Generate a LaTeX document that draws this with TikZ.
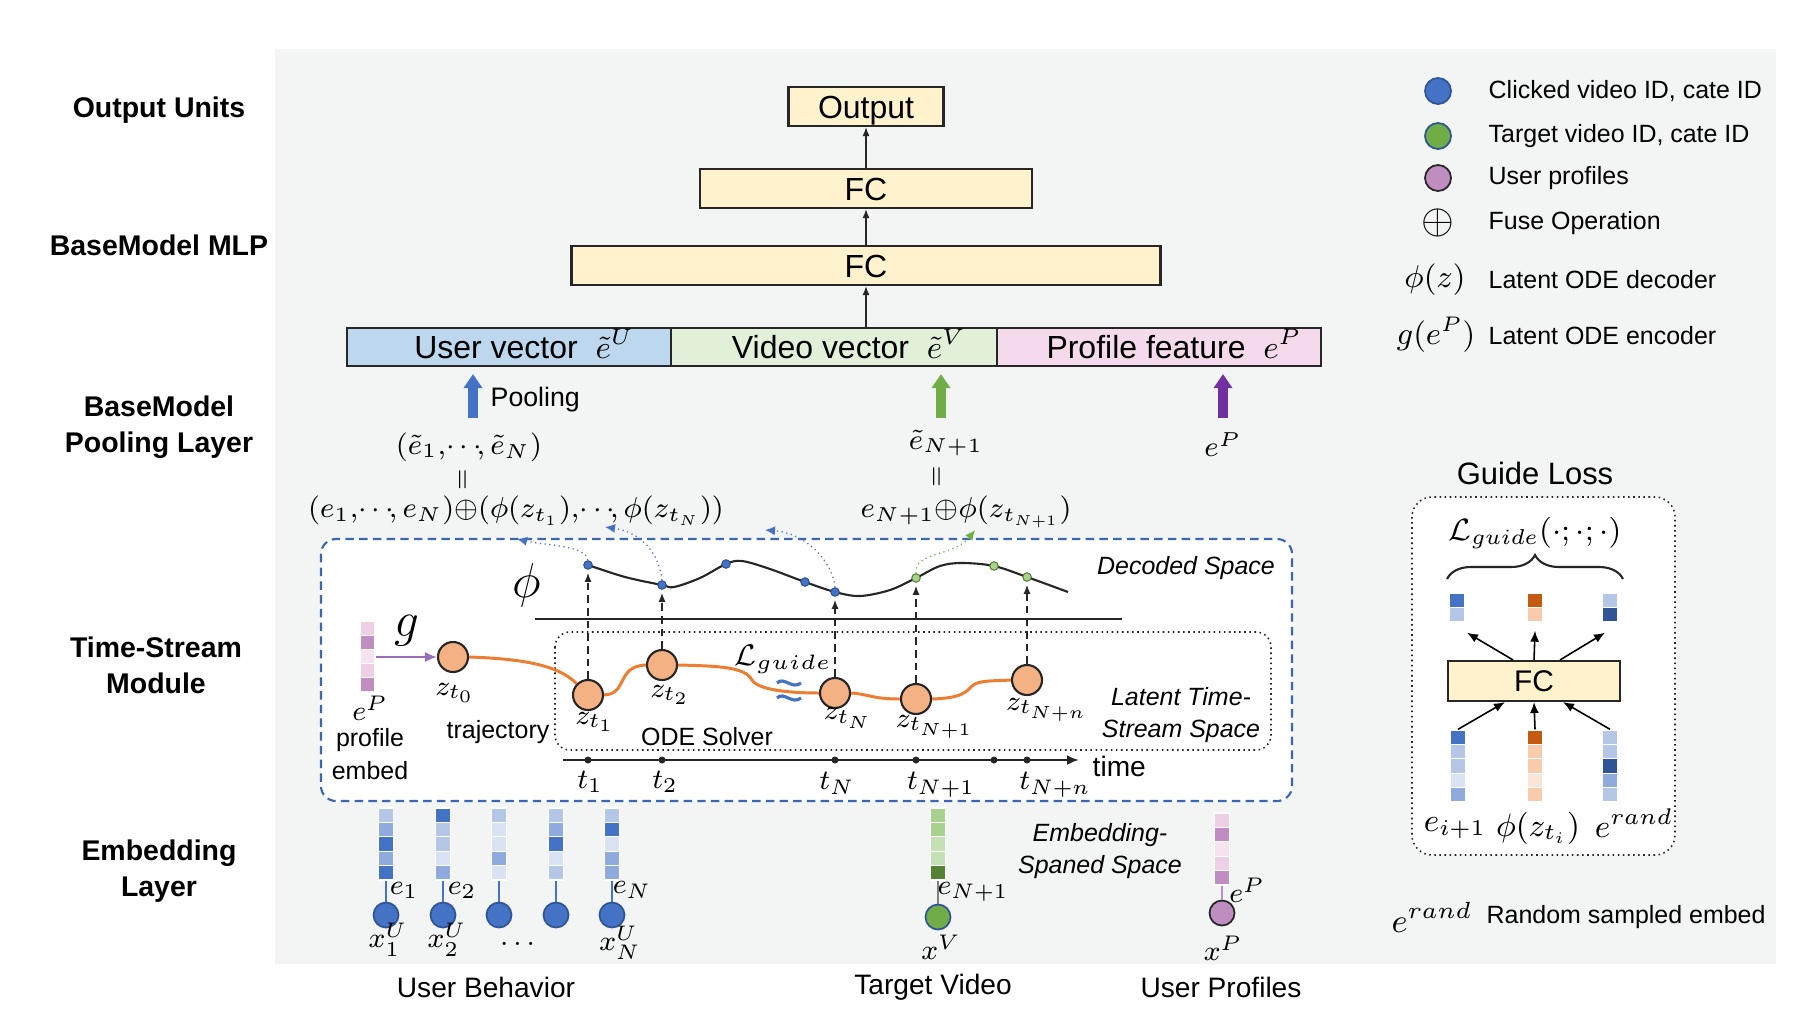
\RequirePackage{fix-cm}
\documentclass[tikz,border=0pt]{standalone}
\usepackage{amsmath}
\usepackage[no-math]{fontspec}
\setmainfont{Liberation Sans}
\usetikzlibrary{positioning,arrows.meta,decorations.pathreplacing}
\definecolor{bggray}{HTML}{F3F4F4}
\definecolor{lineg}{HTML}{262626}
\definecolor{fcfill}{HTML}{FFF2CC}
\definecolor{ufill}{HTML}{BDD7EE}
\definecolor{vfill}{HTML}{E2F0D9}
\definecolor{pfill}{HTML}{F5DAEB}
\definecolor{eD}{HTML}{4472C4}
\definecolor{eM}{HTML}{8FAADC}
\definecolor{eL}{HTML}{B4C7E7}
\definecolor{eX}{HTML}{DAE3F3}
\definecolor{eN}{HTML}{2F5597}
\definecolor{gD}{HTML}{548235}
\definecolor{gL}{HTML}{A9D18E}
\definecolor{gX}{HTML}{C5E0B4}
\definecolor{gA}{HTML}{70AD47}
\definecolor{pD}{HTML}{BF8DC0}
\definecolor{pL}{HTML}{EFCFE4}
\definecolor{pX}{HTML}{F6E3EF}
\definecolor{pA}{HTML}{7030A0}
\definecolor{oD}{HTML}{C55A11}
\definecolor{oL}{HTML}{F8CBAD}
\definecolor{oX}{HTML}{FBE5D6}
\definecolor{zfill}{HTML}{F4B183}
\definecolor{orangeL}{HTML}{ED7D31}
\definecolor{dashblue}{HTML}{3B66B0}
\newcommand{\tdots}{\!{\cdots}\!}

\begin{document}
\begin{tikzpicture}[x=0.1mm,y=-0.1mm,
  box/.style={draw=lineg,line width=0.6pt,inner sep=0pt,text height=2.4mm,text depth=0.1mm,font=\fontsize{9.1}{11}\selectfont},
  rowhead/.style={font=\fontsize{8.1}{10.3}\selectfont\bfseries,align=center},
  lbl/.style={font=\fontsize{7.1}{9.2}\selectfont,align=center},
  ilbl/.style={font=\fontsize{7.1}{9.2}\selectfont\itshape,align=center},
  capt/.style={font=\fontsize{8}{9.6}\selectfont},
  mlbl/.style={font=\fontsize{8}{9.6}\selectfont,inner sep=1pt},
  fml/.style={font=\fontsize{8.2}{10}\selectfont,inner sep=0.5pt},
  eqsign/.style={font=\fontsize{7}{7}\selectfont,inner sep=0pt},
  uparr/.style={draw=lineg,line width=0.4pt,-{Latex[length=0.9mm,width=0.7mm]}},
  blockarr/.style={line width=1mm,-{Triangle[length=1.4mm,width=1.8mm]}},
  embcol/.style={inner sep=0pt,minimum width=1.5mm,minimum height=7.2mm},
  cell/.style={draw=white,line width=0.3pt},
  ucirc/.style={circle,draw=eN,fill=eD,line width=0.5pt,minimum size=2.5mm,inner sep=0pt},
  vcirc/.style={circle,draw=eN,fill=gA,line width=0.5pt,minimum size=2.5mm,inner sep=0pt},
  pcirc/.style={circle,draw=lineg,fill=pD,line width=0.5pt,minimum size=2.5mm,inner sep=0pt},
  link/.style={draw=eD,line width=0.4pt},
  znode/.style={circle,draw=lineg,fill=zfill,line width=0.6pt,minimum size=3mm,inner sep=0pt},
  traj/.style={draw=orangeL,line width=0.85pt},
  bdot/.style={circle,draw=eN,fill=eD,line width=0.3pt,minimum size=0.85mm,inner sep=0pt},
  gdot/.style={circle,draw=gD,fill=gL,line width=0.3pt,minimum size=0.85mm,inner sep=0pt},
  vdash/.style={draw=lineg,line width=0.4pt,dash pattern=on 2.2pt off 1.4pt,-{Latex[length=0.9mm,width=0.7mm]},shorten >=0.3mm},
  decarr/.style={line width=0.35pt,densely dotted,-{Latex[length=1mm,width=0.9mm]}},
  dashbox/.style={draw=dashblue,fill=white,line width=0.6pt,dash pattern=on 2.4pt off 1.5pt,rounded corners=1.5mm},
  dotbox/.style={draw=lineg,fill=white,line width=0.45pt,densely dotted,rounded corners=1.5mm},
  axisline/.style={draw=lineg,line width=0.7pt},
  garrow/.style={draw=black,line width=0.45pt,-{Latex[length=1.1mm,width=0.9mm]}}
]
  \useasboundingbox (0,0) rectangle (1812,1021);
  \fill[bggray] (275,49) rectangle (1776,964);

  % row headings
  \node[rowhead] (hout) at (159,110) {Output Units};
  \node[rowhead] (hmlp) at (159,245) {BaseModel MLP};
  \node[rowhead] (hpool) at (159,427) {BaseModel\\Pooling Layer};
  \node[rowhead] (hts) at (156,665) {Time-Stream\\Module};
  \node[rowhead] (hemb) at (159,871) {Embedding\\Layer};

  % base model
  \node[box,fill=fcfill,minimum width=15.5mm,minimum height=3.9mm] (out) at (866,106.5) {Output};
  \node[box,fill=fcfill,minimum width=33.2mm,minimum height=3.9mm] (fc2) at (866,188.5) {FC};
  \node[box,fill=fcfill,minimum width=58.9mm,minimum height=3.9mm] (fc1) at (866,265.5) {FC};
  \node[box,fill=ufill,minimum width=32.4mm,minimum height=3.8mm] (uvec) at (509,347) {\hspace*{3mm}User vector \ $\tilde{e}^U$};
  \node[box,fill=vfill,minimum width=32.6mm,minimum height=3.8mm] (vvec) at (834,347) {\hspace*{3mm}Video vector \ $\tilde{e}^V$};
  \node[box,fill=pfill,minimum width=32.4mm,minimum height=3.8mm] (pvec) at (1159,347) {\hspace*{3mm}Profile feature \ $e^P$};
  \draw[uparr] (fc1.south |- vvec.north) -- (fc1.south);
  \draw[uparr] (fc1.north) -- (fc2.south);
  \draw[uparr] (fc2.north) -- (out.south);

  % pooling layer
  \coordinate (pu) at (473,418);
  \coordinate (pv) at (941,418);
  \coordinate (pp) at (1223,418);
  \draw[blockarr,draw=eD,shorten >=0.7mm] (pu) -- (pu |- uvec.south);
  \draw[blockarr,draw=gA,shorten >=0.7mm] (pv) -- (pv |- vvec.south);
  \draw[blockarr,draw=pA,shorten >=0.7mm] (pp) -- (pp |- pvec.south);
  \node[lbl,anchor=west,inner sep=0pt,font=\fontsize{7.6}{9}\selectfont] (plbl) at (490,400) {Pooling};
  \node[fml] (f1) at (469,447) {$(\tilde{e}_1,\tdots,\tilde{e}_N)$};
  \node[eqsign] (eq1) at (464,480) {\rotatebox{90}{$=$}};
  \node[fml] (f2) at (516,511) {$(e_1,\tdots,e_N){\oplus}(\phi(z_{t_1}),\tdots,\phi(z_{t_N}))$};
  \node[fml] (g1) at (946,443) {$\tilde{e}_{N+1}$};
  \node[eqsign] (eq2) at (938,477) {\rotatebox{90}{$=$}};
  \node[fml] (g2) at (966,512) {$e_{N+1}{\oplus}\phi(z_{t_{N+1}})$};
  \node[fml] (pe) at (1223,445) {$e^P$};

  % legend
  \node[ucirc,minimum size=2.6mm] (lg1) at (1438,91) {};
  \node[vcirc,minimum size=2.6mm] (lg2) at (1438,136) {};
  \node[pcirc,minimum size=2.6mm] (lg3) at (1438,178) {};
  \node[inner sep=0pt,font=\fontsize{12}{12}\selectfont] (lg4) at (1438,223) {$\oplus$};
  \node[fml,font=\fontsize{9}{10}\selectfont] (lg5) at (1435,280) {$\phi(z)$};
  \node[fml,font=\fontsize{9}{10}\selectfont] (lg6) at (1436,335) {$g(e^P)$};
  \node[lbl,anchor=west,inner sep=0pt] (lt1) at (1488,91) {Clicked video ID, cate ID};
  \node[lbl,anchor=west,inner sep=0pt] (lt2) at (1488,136) {Target video ID, cate ID};
  \node[lbl,anchor=west,inner sep=0pt] (lt3) at (1488,178) {User profiles};
  \node[lbl,anchor=west,inner sep=0pt] (lt4) at (1488,223) {Fuse Operation};
  \node[lbl,anchor=west,inner sep=0pt] (lt5) at (1488,280) {Latent ODE decoder};
  \node[lbl,anchor=west,inner sep=0pt] (lt6) at (1488,336) {Latent ODE encoder};

  % time-stream module
  \draw[dashbox] (321,539) rectangle (1292,801);
  \node[font=\fontsize{14}{14}\selectfont] (phi) at (527,585) {$\phi$};
  \draw[lineg,line width=0.6pt] plot[smooth,tension=0.55] coordinates {(588,565) (625,577) (662,585) (674,587) (700,578) (726,564) (742,561) (770,569) (805,582) (835,592) (860,596) (890,590) (916,578) (940,566) (962,563) (994,566) (1027,577) (1068,592)};
  \draw[axisline] (535,619) -- (1122,619);
  \draw[dotbox] (555,632) rectangle (1271,750);
  \node[ilbl] (decsp) at (1186,568) {Decoded Space};
  \node[ilbl] (latsp) at (1181,715) {Latent Time-\\Stream Space};

  \coordinate (ta0) at (563,760);
  \coordinate (ta1) at (1079,760);
  \draw[axisline,-{Latex[length=1.2mm,width=1mm]}] (ta0) -- (ta1);
  \foreach \x in {588,662,835,916,994,1027}
    \fill[lineg] (\x,760) circle (0.35mm);
  \node[capt,anchor=west,inner sep=0pt] (timelbl) at (1092,766) {time};
  \node[mlbl] (t1) at (590,782) {$t_1$};
  \node[mlbl] (t2) at (665,782) {$t_2$};
  \node[mlbl] (tN) at (837,783) {$t_N$};
  \node[mlbl] (tN1) at (941,785) {$t_{N+1}$};
  \node[mlbl] (tNn) at (1055,785) {$t_{N+n}$};

  \node[embcol,minimum height=7.1mm] (pcol) at (367.5,656.5) {};
  \foreach \c [count=\i from 0] in {pL,pD,pX,pL,pD}
    \fill[\c,cell] (360,{621+14.2*\i}) rectangle ++(15,14.2);
  \node[mlbl] (epl) at (370,708) {$e^P$};
  \node[lbl] (prof) at (370,754) {profile\\embed};
  \node[font=\fontsize{14}{14}\selectfont] (glbl) at (407,631) {$g$};

  \node[znode] (z0) at (453,657) {};
  \node[znode] (z1) at (588,695) {};
  \node[znode] (z2) at (662,665) {};
  \node[znode] (zN) at (835,693) {};
  \node[znode] (zN1) at (916,699) {};
  \node[znode] (zNn) at (1027,680) {};
  \draw[draw=pA!70,line width=0.5pt,-{Latex[length=1.2mm,width=1mm]}] (pcol.east |- z0) -- (z0.west);
  \draw[traj] (z0.east) .. controls (530,659) and (560,667) .. (z1.135);
  \draw[traj] (z1.east) .. controls (628,694) and (616,666) .. (z2.west);
  \draw[traj] (z2.east) .. controls (720,666) and (745,667) .. (752,680) .. controls (758,690) and (790,693) .. (zN.west);
  \draw[traj] (zN.east) .. controls (868,694) and (872,699) .. (zN1.west);
  \draw[traj] (zN1.east) .. controls (962,698) and (966,692) .. (972,686) .. controls (978,680) and (995,681) .. (zNn.west);
  \node[mlbl] (zl0) at (455,693) {$z_{t_0}$};
  \node[mlbl] (zl1) at (595,722) {$z_{t_1}$};
  \node[mlbl] (zl2) at (670,695) {$z_{t_2}$};
  \node[mlbl] (zlN) at (848,718) {$z_{t_N}$};
  \node[mlbl] (zlN1) at (935,727) {$z_{t_{N+1}}$};
  \node[mlbl] (zlNn) at (1047,710) {$z_{t_{N+n}}$};
  \node[lbl] (trajlbl) at (498,732) {trajectory};
  \node[lbl] (odes) at (707,737) {ODE Solver};
  \node[font=\fontsize{8.5}{10}\selectfont] (lguide) at (783,659) {$\mathcal{L}_{guide}$};
  \draw[eD,line width=0.9pt] (777,683) .. controls (784,676) and (792,690) .. (801,683);
  \draw[eD,line width=0.9pt] (777,698) .. controls (784,691) and (792,705) .. (801,698);

  \node[bdot] (d1) at (588,565) {};
  \node[bdot] (d2) at (662,585) {};
  \node[bdot] (d3) at (726,564) {};
  \node[bdot] (d4) at (805,582) {};
  \node[bdot] (dN) at (835,592) {};
  \node[gdot] (dN1) at (916,578) {};
  \node[gdot] (d5) at (994,566) {};
  \node[gdot] (dNn) at (1027,577) {};
  \draw[vdash] (z1.north) -- (d1.south);
  \draw[vdash] (z2.north) -- (d2.south);
  \draw[vdash] (zN.north) -- (dN.south);
  \draw[vdash] (zN1.north) -- (dN1.south);
  \draw[vdash] (zNn.north) -- (dNn.south);

  \coordinate (a1) at (517,539);
  \coordinate (a2) at (605,527);
  \coordinate (a3) at (765,530);
  \coordinate (a4) at (975,530);
  \draw[decarr,eD] (d1.north) .. controls (585,545) and (548,546) .. (a1);
  \draw[decarr,eD] (d2.north) .. controls (659,552) and (640,532) .. (a2);
  \draw[decarr,eD] (dN.north) .. controls (832,560) and (805,533) .. (a3);
  \draw[decarr,gA] (dN1.north) .. controls (913,552) and (955,556) .. (a4);

  % embedding layer
  \node[embcol] (e1) at (386,844) {};
  \foreach \c [count=\i from 0] in {eL,eM,eD,eM,eD}
    \fill[\c,cell] (378.5,{808+14.4*\i}) rectangle ++(15,14.4);
  \node[embcol] (e2) at (443,844) {};
  \foreach \c [count=\i from 0] in {eD,eL,eL,eX,eM}
    \fill[\c,cell] (435.5,{808+14.4*\i}) rectangle ++(15,14.4);
  \node[embcol] (e3) at (499,844) {};
  \foreach \c [count=\i from 0] in {eL,eX,eX,eM,eX}
    \fill[\c,cell] (491.5,{808+14.4*\i}) rectangle ++(15,14.4);
  \node[embcol] (e4) at (556,844) {};
  \foreach \c [count=\i from 0] in {eL,eM,eD,eX,eL}
    \fill[\c,cell] (548.5,{808+14.4*\i}) rectangle ++(15,14.4);
  \node[embcol] (e5) at (612,844) {};
  \foreach \c [count=\i from 0] in {eL,eD,eX,eM,eM}
    \fill[\c,cell] (604.5,{808+14.4*\i}) rectangle ++(15,14.4);
  \node[embcol] (eN1) at (938,844) {};
  \foreach \c [count=\i from 0] in {gL,gL,gX,gX,gD}
    \fill[\c,cell] (930.5,{808+14.4*\i}) rectangle ++(15,14.4);
  \node[embcol] (eP) at (1222,849) {};
  \foreach \c [count=\i from 0] in {pL,pD,pX,pL,pD}
    \fill[\c,cell] (1214.5,{813+14.4*\i}) rectangle ++(15,14.4);

  \node[ucirc] (xu1) at (386,915) {};
  \node[ucirc] (xu2) at (443,915) {};
  \node[ucirc] (xu3) at (499,915) {};
  \node[ucirc] (xu4) at (556,915) {};
  \node[ucirc] (xu5) at (612,915) {};
  \node[vcirc] (xv) at (938,917) {};
  \node[pcirc] (xp) at (1222,913) {};
  \draw[link] (xu1) -- (e1.south);
  \draw[link] (xu2) -- (e2.south);
  \draw[link] (xu3) -- (e3.south);
  \draw[link] (xu4) -- (e4.south);
  \draw[link] (xu5) -- (e5.south);
  \draw[link,draw=gray] (xv) -- (eN1.south);
  \draw[link,draw=pD] (xp) -- (eP.south);

  \node[mlbl] (le1) at (404,890) {$e_1$};
  \node[mlbl] (le2) at (462,890) {$e_2$};
  \node[mlbl] (leN) at (632,890) {$e_N$};
  \node[mlbl] (leN1) at (973,892) {$e_{N+1}$};
  \node[mlbl] (leP) at (1247,890) {$e^P$};
  \node[mlbl] (lx1) at (388,940) {$x_1^U$};
  \node[mlbl] (lx2) at (447,940) {$x_2^U$};
  \node[mlbl] (ldots) at (520,944) {$\dots$};
  \node[mlbl] (lxN) at (620,943) {$x_N^U$};
  \node[mlbl] (lxv) at (941,947) {$x^V$};
  \node[mlbl] (lxp) at (1223,948) {$x^P$};
  \node[ilbl] (embsp) at (1100,851) {Embedding-\\Spaned Space};
  \node[capt] (cub) at (486,987) {User Behavior};
  \node[capt] (ctv) at (933,987) {Target Video};
  \node[capt] (cup) at (1221,987) {User Profiles};

  % guide loss
  \node[font=\fontsize{8.8}{10}\selectfont] (gltitle) at (1535,473) {Guide Loss};
  \draw[dotbox,rounded corners=2mm] (1412,497) rectangle (1675,855);
  \node[fml,font=\fontsize{8.8}{10}\selectfont] (lgd) at (1535,533) {$\mathcal{L}_{guide}(\cdot;\cdot;\cdot)$};
  \draw[lineg,line width=0.6pt,decorate,decoration={brace,amplitude=2.4mm}] (1447,579) -- (1623,579);
  \node[embcol,minimum height=2.9mm] (ta) at (1457,607.5) {};
  \foreach \c [count=\i from 0] in {eD,eL}
    \fill[\c,cell] (1449.5,{593+14.5*\i}) rectangle ++(15,14.5);
  \node[embcol,minimum height=2.9mm] (tb) at (1535,607.5) {};
  \foreach \c [count=\i from 0] in {oD,oL}
    \fill[\c,cell] (1527.5,{593+14.5*\i}) rectangle ++(15,14.5);
  \node[embcol,minimum height=2.9mm] (tc) at (1610,607.5) {};
  \foreach \c [count=\i from 0] in {eL,eN}
    \fill[\c,cell] (1602.5,{593+14.5*\i}) rectangle ++(15,14.5);
  \node[box,fill=fcfill,minimum width=17.2mm,minimum height=4mm,text height=2.2mm,font=\fontsize{8.5}{10}\selectfont] (gfc) at (1534,681) {FC};
  \node[embcol] (ba) at (1458,766) {};
  \foreach \c [count=\i from 0] in {eD,eL,eL,eX,eM}
    \fill[\c,cell] (1450.5,{730+14.4*\i}) rectangle ++(15,14.4);
  \node[embcol] (bb) at (1535,766) {};
  \foreach \c [count=\i from 0] in {oD,oL,oL,oX,oL}
    \fill[\c,cell] (1527.5,{730+14.4*\i}) rectangle ++(15,14.4);
  \node[embcol] (bc) at (1610,766) {};
  \foreach \c [count=\i from 0] in {eL,eL,eN,eM,eL}
    \fill[\c,cell] (1602.5,{730+14.4*\i}) rectangle ++(15,14.4);
  \draw[garrow] ([xshift=-2.1mm]gfc.north) -- ([xshift=1mm,yshift=-1mm]ta.south);
  \draw[garrow] (gfc.north) -- ([yshift=-0.8mm]tb.south);
  \draw[garrow] ([xshift=2.6mm]gfc.north) -- ([xshift=-0.5mm,yshift=-1mm]tc.south);
  \draw[garrow] (ba.north) -- ([xshift=-2.9mm]gfc.south);
  \draw[garrow] (bb.north) -- (gfc.south);
  \draw[garrow] (bc.north) -- ([xshift=2.9mm]gfc.south);
  \node[fml,font=\fontsize{9.2}{10}\selectfont] (lei) at (1455,828) {$e_{i+1}$};
  \node[fml,font=\fontsize{9.2}{10}\selectfont] (lphi) at (1538,828) {$\phi(z_{t_i})$};
  \node[fml,font=\fontsize{9.2}{10}\selectfont] (lrand) at (1634,823) {$e^{rand}$};
  \node[fml,font=\fontsize{9.5}{10}\selectfont] (lgr) at (1432,917) {$e^{rand}$};
  \node[lbl,anchor=west,inner sep=0pt] (lgrt) at (1486,917) {Random sampled embed};
\end{tikzpicture}
\end{document}
